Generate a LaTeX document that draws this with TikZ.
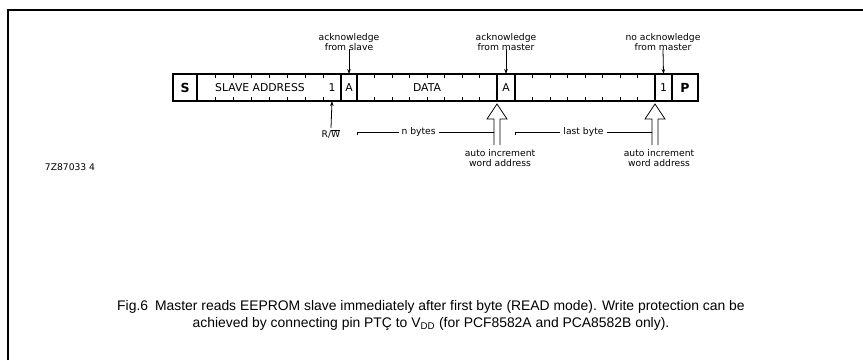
\documentclass[tikz,border=0pt]{standalone}
\usepackage{fontspec}
\setmainfont{Liberation Sans}
\newfontfamily\labelfont{DejaVu Sans}
\usepackage{tikz}
\usetikzlibrary{arrows.meta, positioning}

\tikzset{
    field/.style={minimum height=27pt, inner sep=0pt, outer sep=0pt,
        font=\labelfont\fontsize{10.8}{12}\selectfont},
    note/.style={align=center, inner sep=1pt, font=\labelfont\fontsize{9.2}{10.8}\selectfont},
    caption/.style={font=\fontsize{13.9}{16}\selectfont}
}

\begin{document}
\begin{tikzpicture}[
    x=1pt, y=-1pt,
    >={Stealth[length=5pt, width=3.5pt]},
    line width=0.8pt
]
\useasboundingbox (0,0) rectangle (863,360);

% Frame
\draw[line width=1.1pt] (8,360) -- (8,10) -- (863,10);

% Bit strip
\draw[line width=1.1pt] (173,74) rectangle (698,101);
\foreach \x in {197,341,357,497,515,655,672}
    \draw[line width=1.1pt] (\x,74) -- (\x,101);
\foreach \x in {215,233,251,269,287,305,323}
    \draw (\x,74) -- (\x,78) (\x,101) -- (\x,97);
\foreach \k in {1,...,7} {
    \draw (357+17.5*\k,74) -- (357+17.5*\k,78) (357+17.5*\k,101) -- (357+17.5*\k,97);
    \draw (515+17.5*\k,74) -- (515+17.5*\k,78) (515+17.5*\k,101) -- (515+17.5*\k,97);
}

% Fields
\node[field, minimum width=24pt] (start) at (185,87.5) {\fontsize{12.5}{14}\selectfont\bfseries S};
\node[field, minimum width=126pt] (addr) at (260,87.5) {SLAVE ADDRESS};
\node[field, minimum width=18pt] (rw) at (332,87.5) {1};
\node[field, minimum width=16pt] (ackslv) at (349,87.5) {A};
\node[field, minimum width=140pt] (data) at (427,87.5) {DATA};
\node[field, minimum width=18pt] (ackmst) at (506,87.5) {A};
\node[field, minimum width=140pt] (lastbyte) at (585,87.5) {};
\node[field, minimum width=17pt] (noack) at (663.5,87.5) {1};
\node[field, minimum width=26pt] (stop) at (685,87.5) {\fontsize{12.5}{14}\selectfont\bfseries P};

% Acknowledge labels
\node[note] (ackslvtxt) at (349,42) {acknowledge\\from slave};
\node[note] (ackmsttxt) at (506,42) {acknowledge\\from master};
\node[note] (noacktxt) at (663,42) {no acknowledge\\from master};
\draw[->] ([yshift=3pt]ackslvtxt.south) -- (ackslv.north);
\draw[->] ([yshift=3pt]ackmsttxt.south) -- (ackmst.north);
\draw[->] ([yshift=3pt]noacktxt.south) -- (noack.north);

% R/W bit
\node[note] (rwtxt) at (331,134) {R/$\overline{\mbox{W}}$};
\draw[->] (rwtxt.north) -- (rw.south);

% Auto increment arrows
\foreach \x/\n in {497/one, 655/two} {
    \draw (\x-3,145) -- (\x-3,119) -- (\x-10,119) -- (\x,104) -- (\x+10,119) -- (\x+3,119) -- (\x+3,145);
    \coordinate (shaft\n) at (\x-3,132);
}
\node[note] (incone) at (500,158) {auto increment\\word address};
\node[note] (inctwo) at (659,158) {auto increment\\word address};

% Byte brackets
\coordinate (nstart) at (357,132);
\coordinate (lstart) at (515,132);
\draw[line width=0.6pt] ([yshift=-3pt]nstart) -- (nstart) -- (shaftone)
    node[note, pos=0.45, fill=white, inner xsep=3pt] (nbytes) {n bytes};
\draw[line width=0.6pt] ([yshift=-3pt]lstart) -- (lstart) -- (shafttwo)
    node[note, pos=0.5, fill=white, inner xsep=3pt] (lbyte) {last byte};

% Drawing code
\node[note] (code) at (70,167) {7Z87033 4};

% Caption
\node[caption] (capone) at (431,307) {Fig.6\enspace Master reads EEPROM slave immediately after first byte (READ mode). Write protection can be};
\node[caption] (captwo) at (431,324) {achieved by connecting pin PTÇ to V\textsubscript{DD} (for PCF8582A and PCA8582B only).};

\end{tikzpicture}
\end{document}
